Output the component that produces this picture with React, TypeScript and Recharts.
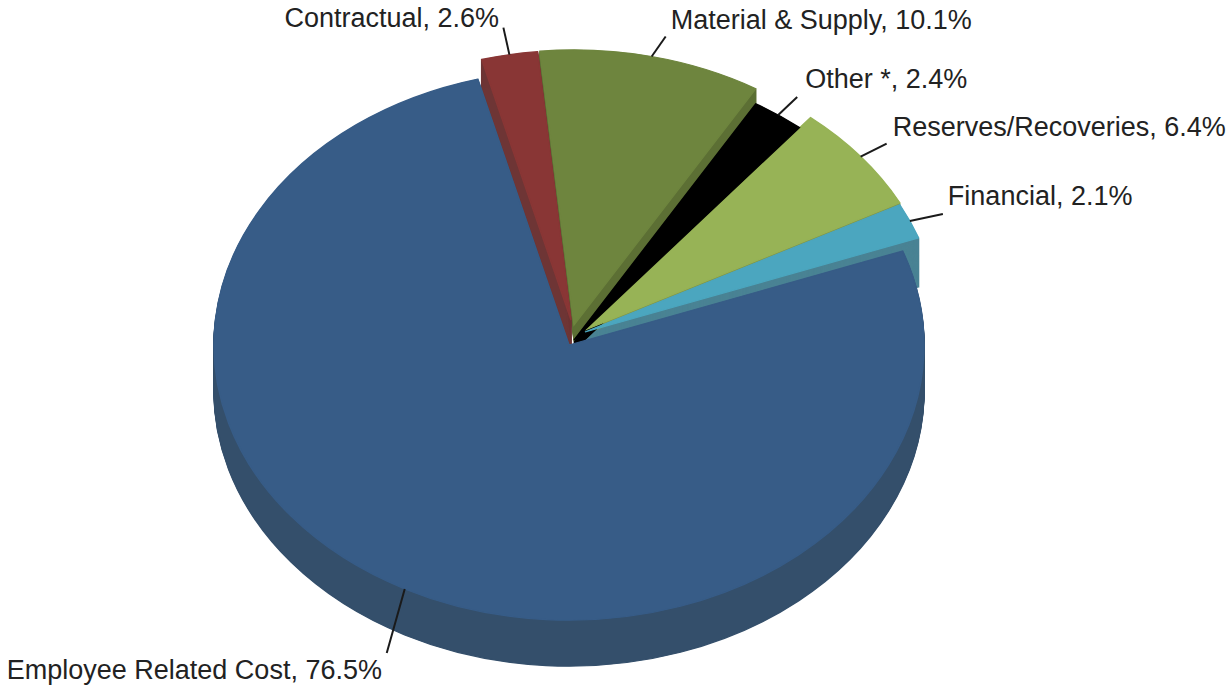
import React from 'react';
import { PieChart, Pie, Sector } from 'recharts';

// paint order: slices go counter-clockwise from the right, the big one last so it sits on top
const categories = ['Financial', 'Reserves/Recoveries', 'Other *', 'Material & Supply', 'Contractual', 'Employee Related Cost'];
const shares = [2.1, 6.4, 2.4, 10.1, 2.6, 76.5];

const TOP_COLORS = ['#4BA6BF', '#97B356', '#000000', '#6E853E', '#893635', '#375C87'];
const WALL_COLORS = ['#4A8394', '#7F9649', '#000000', '#5C6F34', '#6E3535', '#344F6B'];
const WALL_DEPTH = [49, 4, 10, 15, 30, 46];
const RADIUS_SCALE = [1, 1, 1, 1, 0.98, 1];
const EXPLODE_X = [16, 16, 5, 5, 2, 0];
const EXPLODE_Y = [-13, -15, -5, -20, -25, 0];
// leader line end relative to the slice edge, then text start relative to the leader end
const LEADER_DX = [33, 26, 19, 14, -6, -18];
const LEADER_DY = [-7, -13, -18, -20, -27, 64];
const TEXT_DX = [5, 6, 8, 5, -219, -380];
const TEXT_DY = [-9, -8, -9, -8, -1, 26];

const WIDTH = 1226;
const HEIGHT = 685;
const CX = 569;
const CY = 345;
const RADIUS = 355;
const SQUASH = 0.775;

const tableData = categories.map((name, i) => ({ name, value: shares[i], fill: TOP_COLORS[i] }));

const flatten = (cx: number, cy: number, dx: number, dy: number) =>
  `translate(${cx + dx} ${cy + dy}) scale(1 ${SQUASH}) translate(${-cx} ${-cy})`;

const TopSlice = (props: any) => {
  const i = categories.indexOf(props.name);
  return (
    <g transform={flatten(props.cx, props.cy, EXPLODE_X[i], EXPLODE_Y[i])}>
      <Sector
        cx={props.cx}
        cy={props.cy}
        innerRadius={0}
        outerRadius={props.outerRadius * RADIUS_SCALE[i]}
        startAngle={props.startAngle}
        endAngle={props.endAngle}
        fill={TOP_COLORS[i]}
        stroke={TOP_COLORS[i]}
        strokeWidth={1.5}
      />
    </g>
  );
};

const WallSlice = (props: any) => {
  const i = categories.indexOf(props.name);
  const layers: React.ReactNode[] = [];
  for (let d = 1; d <= WALL_DEPTH[i]; d++) {
    layers.push(
      <g key={d} transform={flatten(props.cx, props.cy, EXPLODE_X[i], EXPLODE_Y[i] + d)}>
        <Sector
          cx={props.cx}
          cy={props.cy}
          innerRadius={0}
          outerRadius={props.outerRadius * RADIUS_SCALE[i]}
          startAngle={props.startAngle}
          endAngle={props.endAngle}
          fill={WALL_COLORS[i]}
          stroke={WALL_COLORS[i]}
          strokeWidth={1.5}
        />
      </g>
    );
  }
  return <g>{layers}</g>;
};

const SliceLabel = (props: any) => {
  const i = categories.indexOf(props.name);
  const rad = (props.midAngle * Math.PI) / 180;
  const r = props.outerRadius * RADIUS_SCALE[i];
  const x1 = props.cx + EXPLODE_X[i] + r * Math.cos(rad);
  const y1 = props.cy + EXPLODE_Y[i] - r * SQUASH * Math.sin(rad);
  const x2 = x1 + LEADER_DX[i];
  const y2 = y1 + LEADER_DY[i];
  return (
    <g>
      <line x1={x1} y1={y1} x2={x2} y2={y2} stroke="#1a1a1a" strokeWidth={2} />
      <text
        x={x2 + TEXT_DX[i]}
        y={y2 + TEXT_DY[i]}
        fill="#222222"
        fontFamily="'Liberation Sans', Arial, sans-serif"
        fontSize={27}
      >
        {`${props.name}, ${props.value.toFixed(1)}%`}
      </text>
    </g>
  );
};

const App: React.FC = () => {
  return (
    <div style={{ position: 'absolute', left: 0, top: 0, width: WIDTH, height: HEIGHT, background: '#fff' }}>
      <PieChart width={WIDTH} height={HEIGHT} margin={{ top: 0, right: 0, bottom: 0, left: 0 }}>
        <Pie
          data={tableData}
          dataKey="value"
          nameKey="name"
          cx={CX}
          cy={CY}
          outerRadius={RADIUS}
          startAngle={20}
          endAngle={380}
          stroke="none"
          shape={WallSlice}
          isAnimationActive={false}
        />
        <Pie
          data={tableData}
          dataKey="value"
          nameKey="name"
          cx={CX}
          cy={CY}
          outerRadius={RADIUS}
          startAngle={20}
          endAngle={380}
          stroke="none"
          shape={TopSlice}
          label={SliceLabel}
          labelLine={false}
          isAnimationActive={false}
        />
      </PieChart>
    </div>
  );
};

export default App;
